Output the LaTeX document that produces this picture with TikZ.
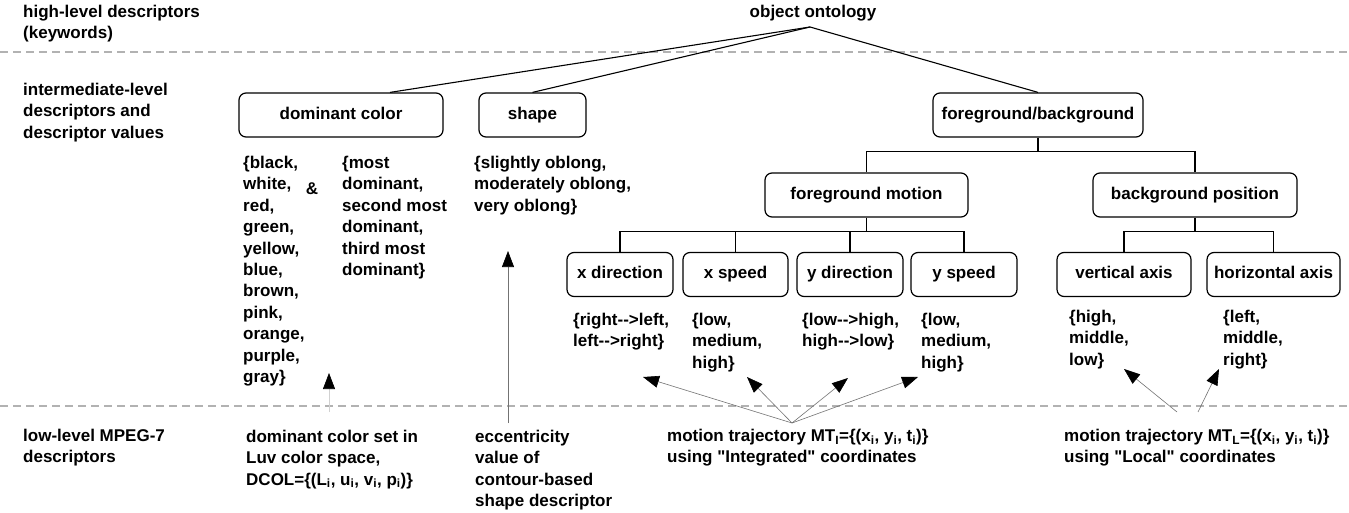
\documentclass[tikz,border=0pt]{standalone}
\usepackage{fontspec}
\newfontfamily\lsans{Liberation Sans}
\usetikzlibrary{arrows.meta,calc}
\begin{document}
\begin{tikzpicture}[x=1pt,y=-1pt,
  txt/.style={font=\lsans\bfseries\fontsize{17}{21.4}\selectfont},
  lbl/.style={txt, inner sep=0pt, align=left, anchor=north west},
  box/.style={txt, draw, line width=1.2pt, rounded corners=7pt, minimum height=44pt, inner sep=0pt, text height=12.2pt, text depth=3.6pt},
  branch/.style={line width=1.1pt},
  divider/.style={draw=black!30, line width=1.2pt, dash pattern=on 8pt off 5pt},
  ptr/.style={draw=black!55, line width=0.6pt, -{Triangle[length=16pt,width=12pt,color=black]}},
]
\fill[white] (0,0) rectangle (1349,513);
\useasboundingbox (0,0) rectangle (1349,513);

% level dividers
\coordinate (d1a) at (0,52);   \coordinate (d1b) at (1349,52);
\coordinate (d2a) at (0,406);  \coordinate (d2b) at (1349,406);
\draw[divider] (d1a) -- (d1b);
\draw[divider] (d2a) -- (d2b);

% level captions
\node[lbl] (cap1) at (23,5) {high-level descriptors\\(keywords)};
\node[lbl] (cap2) at (23,83) {intermediate-level\\descriptors and\\descriptor values};
\node[lbl] (cap3) at (23,429) {low-level MPEG-7\\descriptors};

% root
\node[txt, inner sep=0pt] (onto) at (813,13) {object ontology};
\coordinate (apex) at (810,27);

% descriptor boxes
\node[box, minimum width=204pt] (dc)   at (341,115)   {dominant color};
\node[box, minimum width=107pt] (shp)  at (532.5,115) {shape};
\node[box, minimum width=210pt] (fgbg) at (1038,115)  {foreground/background};
\node[box, minimum width=203pt] (fgm)  at (866.5,195) {foreground motion};
\node[box, minimum width=204pt] (bgp)  at (1195,195)  {background position};
\node[box, minimum width=106pt] (xd)   at (620,274.5)   {x direction};
\node[box, minimum width=105pt] (xs)   at (735.5,274.5) {x speed};
\node[box, minimum width=106pt] (yd)   at (850,274.5)   {y direction};
\node[box, minimum width=106pt] (ys)   at (964,274.5)   {y speed};
\node[box, minimum width=134pt] (va)   at (1124,274.5)  {vertical axis};
\node[box, minimum width=133pt] (ha)   at (1273.5,274.5){horizontal axis};

% branches
\draw[branch] (apex) -- ($(dc.north)+(49,0)$);
\draw[branch] (apex) -- (shp.north);
\draw[branch] (apex) -- (fgbg.north);
\draw[branch] (fgbg.south) -- ++(0,14) coordinate (j1) -| (fgm.north);
\draw[branch] (j1) -| (bgp.north);
\draw[branch] (fgm.south) -- ++(0,14) coordinate (j2) -| (xd.north);
\draw[branch] (j2) -| (xs.north);
\draw[branch] (j2) -| (yd.north);
\draw[branch] (j2) -| (ys.north);
\draw[branch] (bgp.south) -- ++(0,14) coordinate (j3) -| (va.north);
\draw[branch] (j3) -| (ha.north);

% descriptor values
\node[lbl] (vcol) at (243,156) {\{black,\\white,\\red,\\green,\\yellow,\\blue,\\brown,\\pink,\\orange,\\purple,\\gray\}};
\node[txt, inner sep=0pt] (amp) at (312,189) {\&};
\node[lbl] (vdom) at (342,156) {\{most\\dominant,\\second most\\dominant,\\third most\\dominant\}};
\node[lbl] (vshp) at (474,156) {\{slightly oblong,\\moderately oblong,\\very oblong\}};
\node[lbl] (vxd) at (573,313) {\{right-{}->left,\\left-{}->right\}};
\node[lbl] (vxs) at (692,313) {\{low,\\medium,\\high\}};
\node[lbl] (vyd) at (802,313) {\{low-{}->high,\\high-{}->low\}};
\node[lbl] (vys) at (921,313) {\{low,\\medium,\\high\}};
\node[lbl] (vva) at (1069,310) {\{high,\\middle,\\low\}};
\node[lbl] (vha) at (1223,310) {\{left,\\middle,\\right\}};

% low-level descriptors
\node[lbl] (ldc) at (246,430) {dominant color set in\\Luv color space,\\DCOL=\{(L\textsubscript{i}, u\textsubscript{i}, v\textsubscript{i}, p\textsubscript{i})\}};
\node[lbl] (lsh) at (475,430) {eccentricity\\value of\\contour-based\\shape descriptor};
\node[lbl] (lmi) at (667,429) {motion trajectory MT\textsubscript{I}=\{(x\textsubscript{i}, y\textsubscript{i}, t\textsubscript{i})\}\\using "Integrated" coordinates};
\node[lbl] (lml) at (1064,429) {motion trajectory MT\textsubscript{L}=\{(x\textsubscript{i}, y\textsubscript{i}, t\textsubscript{i})\}\\using "Local" coordinates};

% mapping arrows
\coordinate (sc) at (329,412); \coordinate (tc) at (329,373);
\draw[ptr, draw=black!18] (sc) -- (tc);
\coordinate (ss) at (508,423); \coordinate (ts) at (508,251);
\draw[ptr] (ss) -- (ts);
\coordinate (si) at (792,423);
\coordinate (t1) at (643,377); \coordinate (t2) at (747,377);
\coordinate (t3) at (848,378); \coordinate (t4) at (918,377);
\draw[ptr] (si) -- (t1);
\draw[ptr] (si) -- (t2);
\draw[ptr] (si) -- (t3);
\draw[ptr] (si) -- (t4);
\coordinate (sl1) at (1177,412); \coordinate (sl2) at (1198,412);
\coordinate (t5) at (1124,369);  \coordinate (t6) at (1219,369);
\draw[ptr] (sl1) -- (t5);
\draw[ptr] (sl2) -- (t6);
\end{tikzpicture}
\end{document}
